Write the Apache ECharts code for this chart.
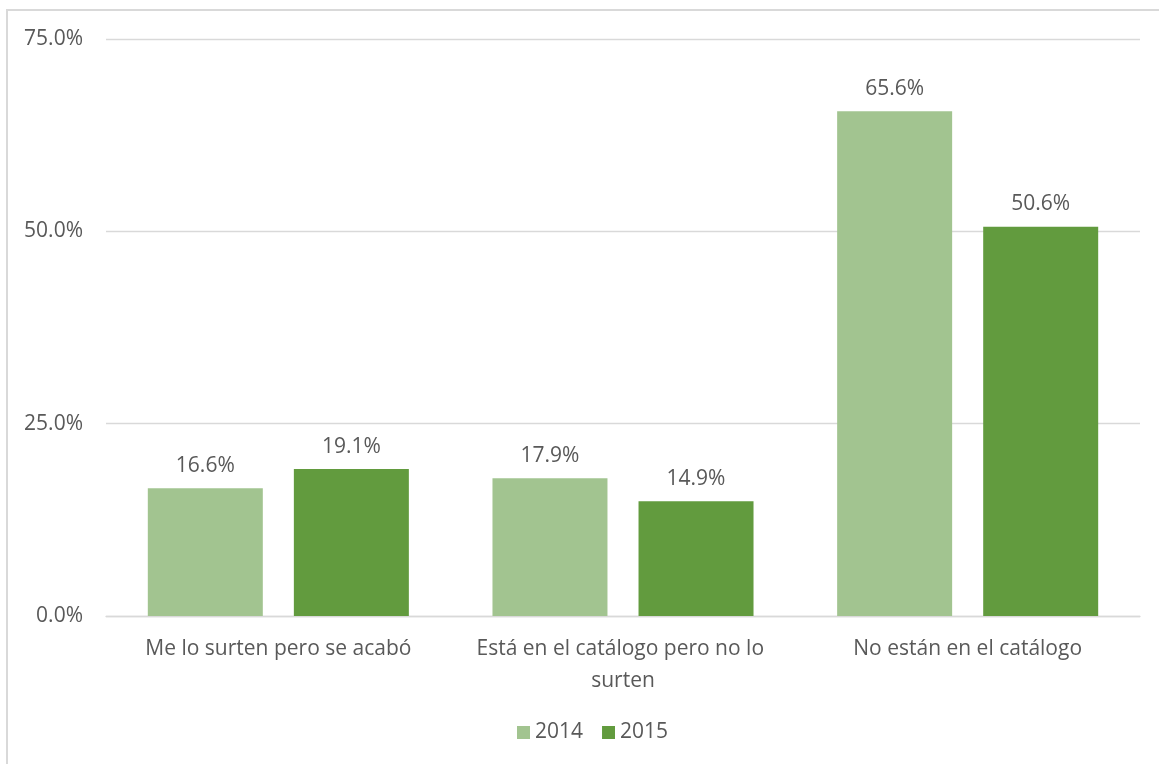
<!DOCTYPE html>
<html>
<head>
<meta charset="utf-8">
<script src="https://cdn.jsdelivr.net/npm/echarts@6/dist/echarts.min.js"></script>
<style>
html,body{margin:0;padding:0;background:#fff;}
#main{width:1159px;height:764px;}
</style>
</head>
<body>
<div id="main"></div>
<script>
const categories = ['Me lo surten pero se acabó', 'Está en el catálogo pero no lo surten', 'No están en el catálogo'];
const seriesNames = ['2014', '2015'];
const values2014 = [16.6, 17.9, 65.6];
const values2015 = [19.1, 14.9, 50.6];

const textColor = '#595959';
const fontFamily = '"Open Sans", "Noto Sans", sans-serif';
const fs = 21;

const chart = echarts.init(document.getElementById('main'), null, {renderer: 'canvas'});
const labelCfg = {
  show: true,
  position: 'top',
  distance: 12,
  color: textColor,
  fontFamily: fontFamily,
  fontSize: fs,
  formatter: p => p.value.toFixed(1) + '%'
};
chart.setOption({
  animation: false,
  backgroundColor: '#fff',
  graphic: [{
    type: 'rect',
    shape: {x: 7, y: 10, width: 1200, height: 800},
    style: {fill: 'none', stroke: '#D9D9D9', lineWidth: 2},
    silent: true,
    z: -1
  }],
  grid: {left: 106, right: 19, top: 39, bottom: 148, containLabel: false},
  legend: {
    data: seriesNames,
    bottom: 16,
    left: 512,
    icon: 'rect',
    itemWidth: 13,
    itemHeight: 13,
    itemGap: 19,
    textStyle: {color: textColor, fontFamily: fontFamily, fontSize: fs}
  },
  xAxis: {
    type: 'category',
    data: categories,
    axisLine: {show: true, lineStyle: {color: '#D9D9D9', width: 1.3}},
    axisTick: {show: false},
    axisLabel: {
      color: textColor,
      fontFamily: fontFamily,
      fontSize: fs,
      margin: 17,
      lineHeight: 32,
      width: 315,
      overflow: 'break',
      interval: 0
    }
  },
  yAxis: {
    type: 'value',
    min: 0,
    max: 75,
    interval: 25,
    axisLine: {show: false},
    axisTick: {show: false},
    splitLine: {lineStyle: {color: '#D9D9D9', width: 1.3}},
    axisLabel: {
      color: textColor,
      fontFamily: fontFamily,
      fontSize: fs,
      margin: 23,
      formatter: v => v.toFixed(1) + '%'
    }
  },
  series: [
    {
      name: seriesNames[0],
      type: 'bar',
      data: values2014,
      barWidth: 115,
      barGap: '27%',
      itemStyle: {color: '#A2C490'},
      label: labelCfg
    },
    {
      name: seriesNames[1],
      type: 'bar',
      data: values2015,
      barWidth: 115,
      barGap: '27%',
      itemStyle: {color: '#629B3E'},
      label: labelCfg
    }
  ]
});
</script>
</body>
</html>
